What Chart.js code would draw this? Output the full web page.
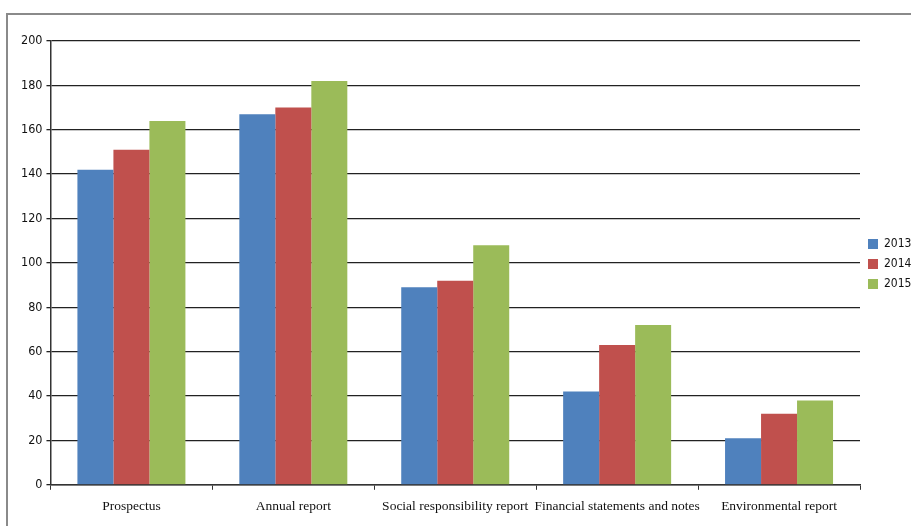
<!DOCTYPE html>
<html>
<head>
<meta charset="utf-8">
<script src="https://cdn.jsdelivr.net/npm/chart.js@4"></script>
<style>
  html, body { margin: 0; padding: 0; background: #fff; }
  #wrap { position: relative; width: 911px; height: 526px; }
</style>
</head>
<body>
<div id="wrap"><canvas id="chart" width="911" height="526"></canvas></div>
<script>
  const categories = ['Prospectus', 'Annual report', 'Social responsibility report', 'Financial statements and notes', 'Environmental report'];
  const seriesNames = ['2013', '2014', '2015'];
  const values2013 = [142, 167, 89, 42, 21];
  const values2014 = [151, 170, 92, 63, 32];
  const values2015 = [164, 182, 108, 72, 38];
  const yTicks = [0, 20, 40, 60, 80, 100, 120, 140, 160, 180, 200];

  const colors = ['#4f81bd', '#c0504d', '#9bbb59'];
  const narrowFont = "'Liberation Sans Narrow', 'DejaVu Sans Condensed', 'Liberation Sans', sans-serif";
  const serifFont = "'Liberation Serif', 'DejaVu Serif', serif";

  const frame = {
    id: 'frame',
    beforeDraw(chart) {
      const ctx = chart.ctx;
      ctx.save();
      ctx.strokeStyle = '#8a8a8a';
      ctx.lineWidth = 2;
      ctx.beginPath();
      ctx.moveTo(7, 526);
      ctx.lineTo(7, 14);
      ctx.lineTo(911, 14);
      ctx.stroke();
      ctx.restore();
    }
  };

  // center the legend on the plot area instead of the whole canvas height
  const legendCenter = {
    id: 'legendCenter',
    afterLayout(chart) {
      const lg = chart.legend;
      const area = chart.chartArea;
      if (!lg || !area) return;
      const shift = (area.top + area.bottom) / 2 - (lg.top + lg.bottom) / 2 + 1;
      lg.top += shift;
      lg.bottom += shift;
    }
  };

  new Chart(document.getElementById('chart'), {
    type: 'bar',
    data: {
      labels: categories,
      datasets: [values2013, values2014, values2015].map((vals, i) => ({
        label: seriesNames[i],
        data: vals,
        backgroundColor: colors[i],
        borderWidth: 0,
        categoryPercentage: 0.667,
        barPercentage: 1
      }))
    },
    options: {
      responsive: false,
      animation: false,
      layout: { padding: { top: 41, left: 17, right: 0, bottom: 2 } },
      scales: {
        x: {
          grid: { drawOnChartArea: false, drawTicks: true, tickLength: 5, color: '#333', offset: true },
          border: { color: '#333', width: 1.5 },
          ticks: { color: '#111', font: { family: serifFont, size: 13.5 }, padding: 9, maxRotation: 0, autoSkip: false }
        },
        y: {
          min: 0,
          max: 200,
          afterBuildTicks(axis) { axis.ticks = yTicks.map((v) => ({ value: v })); },
          grid: { color: '#222', lineWidth: 1.3, tickLength: 4 },
          border: { color: '#333', width: 1.5 },
          ticks: { color: '#111', font: { family: narrowFont, size: 12.5 }, padding: 4 }
        }
      },
      plugins: {
        legend: {
          position: 'right',
          align: 'center',
          maxWidth: 51,
          labels: {
            boxWidth: 10,
            boxHeight: 10,
            padding: 8,
            color: '#111',
            font: { family: narrowFont, size: 12 }
          }
        },
        tooltip: { enabled: false }
      }
    },
    plugins: [frame, legendCenter]
  });
</script>
</body>
</html>
